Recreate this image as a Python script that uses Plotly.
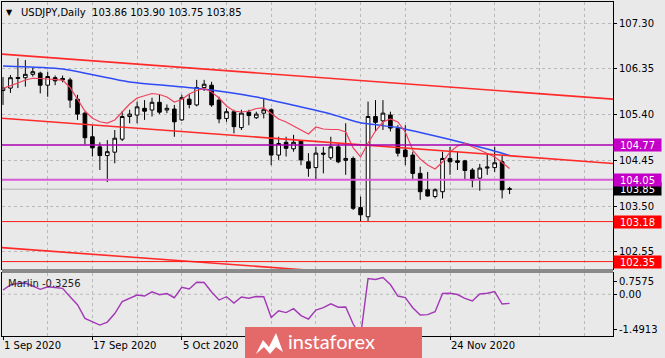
import plotly.graph_objects as go

# ---------------- data ----------------
bars = list(range(69))
opens = [105.90,105.95,106.17,106.165,106.235,106.26,106.01,106.165,106.15,106.12,
         105.72,105.43,104.94,104.73,104.55,104.62,104.89,105.36,105.39,105.53,
         105.495,105.655,105.495,105.515,105.29,105.72,105.60,105.96,106.01,105.70,
         105.32,105.46,105.13,105.45,105.335,105.43,105.50,104.56,104.825,104.69,
         104.85,104.42,104.30,104.60,104.505,104.73,104.45,104.49,103.47,103.28,
         105.36,105.27,105.39,105.115,104.665,104.56,104.18,103.84,103.70,103.80,
         104.49,104.44,104.44,104.25,104.08,104.29,104.30,104.42,103.86]
highs = [106.18,106.22,106.57,106.53,106.37,106.29,106.29,106.21,106.21,106.165,
         105.81,105.46,105.18,104.825,104.87,105.08,105.47,105.50,105.67,105.70,
         105.75,105.81,105.61,105.60,105.81,105.82,106.12,106.12,106.08,105.77,
         105.53,105.50,105.50,105.50,105.46,105.74,105.53,104.94,104.94,104.98,
         104.87,104.60,104.73,104.73,104.94,104.80,105.22,104.53,103.70,105.67,
         105.70,105.70,105.46,105.18,105.18,104.63,104.32,104.21,103.87,104.63,
         104.73,104.63,104.46,104.29,104.375,104.58,104.73,104.56,103.90]
lows = [105.60,105.85,105.95,105.98,106.19,105.84,105.77,106.01,106.07,105.54,
        105.29,104.78,104.53,104.25,104.00,104.39,104.85,105.22,105.22,105.29,
        105.36,105.41,105.43,104.94,105.27,105.53,105.57,105.89,105.56,105.22,
        105.25,105.01,105.08,105.18,105.31,105.32,104.35,104.46,104.53,104.63,
        104.35,104.11,104.04,104.18,104.46,104.39,104.15,103.42,103.18,103.18,
        105.05,105.08,105.05,104.53,104.35,104.04,103.63,103.70,103.66,103.66,
        104.15,104.25,104.04,103.89,103.82,104.15,104.21,103.66,103.75]
closes = [105.95,106.165,106.15,106.235,106.29,106.01,106.19,106.10,106.12,105.70,
          105.41,104.92,104.71,104.55,104.63,104.91,105.36,105.41,105.56,105.47,
          105.655,105.45,105.53,105.25,105.75,105.61,105.96,106.03,105.60,105.31,
          105.46,105.15,105.43,105.38,105.41,105.50,104.56,104.80,104.70,104.825,
          104.46,104.285,104.60,104.58,104.73,104.42,104.49,103.455,103.32,105.36,
          105.24,105.43,105.12,104.60,104.526,104.18,103.80,103.71,103.84,104.49,
          104.42,104.41,104.24,104.04,104.29,104.31,104.40,103.84,103.85]

fast_ma = [105.945,105.993,106.055,106.117,106.153,106.149,106.138,106.117,106.117,105.962,
           105.723,105.474,105.323,105.252,105.225,105.288,105.454,105.620,105.744,105.796,
           105.837,105.817,105.765,105.661,105.713,105.827,105.900,105.941,105.868,105.744,
           105.578,105.474,105.454,105.474,105.526,105.537,105.422,105.308,105.246,105.163,
           105.080,104.997,105.142,105.101,105.090,105.090,105.039,104.707,104.520,104.810,
           105.059,105.246,105.308,105.246,105.039,104.665,104.478,104.354,104.271,104.416,
           104.624,104.748,104.800,104.738,104.665,104.593,104.520,104.406,104.281]

slow_ma_bars = [0, 8, 17, 26, 34, 39, 44, 48, 53, 56, 60, 65, 68]
slow_ma = [106.408, 106.346, 106.076, 105.945, 105.765, 105.593, 105.412,
           105.229, 105.132, 105.028, 104.883, 104.686, 104.551]

marlin = [0.150,0.329,0.390,0.400,0.293,0.175,0.264,0.236,0.211,-0.089,
          -0.375,-0.861,-0.993,-1.100,-0.993,-0.689,-0.261,-0.150,-0.029,-0.064,
          0.086,-0.018,0.025,-0.125,0.246,0.186,0.425,0.418,0.079,-0.207,
          -0.089,-0.314,-0.100,-0.143,-0.082,-0.089,-0.832,-0.593,-0.657,-0.514,
          -0.764,-0.886,-0.564,-0.482,-0.343,-0.464,-0.457,-1.064,-1.490,0.557,
          0.525,0.596,0.346,-0.064,-0.118,-0.482,-0.743,-0.728,-0.625,0.025,
          0.032,-0.011,-0.146,-0.243,0.007,0.036,0.096,-0.350,-0.3256]

trend_bars = [-1, 82]
trend_upper = [106.664, 105.719]
trend_middle = [105.335, 104.385]
trend_lower = [102.649, 101.706]

level_vals = [104.77, 104.05, 103.18, 102.35]
level_colors = ["#A800B0", "#D75AD7", "#FF1A1A", "#FF1A1A"]
level_widths = [1.5, 2, 1, 1]
box_colors = ["#C400C8", "#C400C8", "#FF0000", "#FF0000"]
bid_price = 103.85

price_ticks = [102.55, 103.50, 104.45, 105.40, 106.35, 107.30]
date_tick_bars = [0, 12, 24, 36, 48, 60]
# labels at bars 36 and 48 are hidden behind the logo in the original
date_label_bars = [0, 12, 24, 60]
date_tick_labels = ["1 Sep 2020", "17 Sep 2020", "5 Oct 2020", "24 Nov 2020"]
osc_labels = ["0.7575", "0.00", "-1.4913"]

title_text = "USDJPY,Daily  103.86 103.90 103.75 103.85"
osc_title = "Marlin -0.3256"

# ---------------- style / geometry ----------------
W, H = 665, 358
ML, MR, MT, MB = 2, 52, 2, 22
PW, PH = W - ML - MR, H - MT - MB
BG = "#E9E9E9"
GRID = "#B9B9B9"
FONT = "DejaVu Sans"


def px(x, y):
    return (x - ML) / PW, (H - MB - y) / PH


main_bottom = px(0, 269)[1]
osc_top = px(0, 273)[1]

fig = go.Figure()

fig.add_trace(go.Candlestick(
    x=bars, open=opens, high=highs, low=lows, close=closes,
    xaxis="x", yaxis="y",
    increasing=dict(line=dict(color="black", width=1), fillcolor="white"),
    decreasing=dict(line=dict(color="black", width=1), fillcolor="black"),
    whiskerwidth=0, hoverinfo="skip", showlegend=False))

fig.add_trace(go.Scatter(x=slow_ma_bars, y=slow_ma, mode="lines",
                         line=dict(color="#2F4BF5", width=1.5, shape="spline", smoothing=0.5),
                         xaxis="x", yaxis="y", hoverinfo="skip"))
fig.add_trace(go.Scatter(x=bars, y=fast_ma, mode="lines",
                         line=dict(color="#F0405A", width=1.2),
                         xaxis="x", yaxis="y", hoverinfo="skip"))
for tl in (trend_upper, trend_middle, trend_lower):
    fig.add_trace(go.Scatter(x=trend_bars, y=tl, mode="lines",
                             line=dict(color="#FF2A2A", width=1.6),
                             xaxis="x", yaxis="y", hoverinfo="skip"))

fig.add_trace(go.Scatter(x=bars, y=marlin, mode="lines",
                         line=dict(color="#A238B6", width=1.4),
                         xaxis="x2", yaxis="y2", hoverinfo="skip"))

shapes = []
shapes.append(dict(type="line", xref="x domain", x0=0, x1=1, yref="y", y0=bid_price, y1=bid_price,
                   line=dict(color="#C4C4C4", width=1.5), layer="below"))
for v, c, w in zip(level_vals, level_colors, level_widths):
    shapes.append(dict(type="line", xref="x domain", x0=0, x1=1, yref="y", y0=v, y1=v,
                       line=dict(color=c, width=w), layer="above"))
shapes.append(dict(type="line", xref="x2 domain", x0=0, x1=1, yref="y2", y0=0, y1=0,
                   line=dict(color=GRID, width=1, dash="3px,3px"), layer="below"))
shapes.append(dict(type="rect", xref="paper", x0=0, x1=1, yref="paper", y0=osc_top, y1=main_bottom,
                   fillcolor="#8A8A8A", line=dict(width=0), layer="above"))

# logo
lx0, ly0 = px(245, 327)
lx1, ly1 = px(422, 362)
shapes.append(dict(type="rect", xref="paper", yref="paper", x0=lx0, x1=lx1, y0=ly1, y1=ly0,
                   fillcolor="#E46A6A", line=dict(width=0), layer="above"))
icon_pts = [(256, 354), (263, 340), (269, 347), (276, 333), (283, 352), (276, 347), (270, 354), (264, 347)]
path = "M " + " L ".join(f"{px(x, y)[0]:.5f},{px(x, y)[1]:.5f}" for x, y in icon_pts) + " Z"
shapes.append(dict(type="path", xref="paper", yref="paper", path=path,
                   fillcolor="white", line=dict(width=0), layer="above"))

annotations = []
tx, ty = px(4, 13)
annotations.append(dict(xref="paper", yref="paper", x=tx, y=ty, xanchor="left", yanchor="middle",
                        text="▼", showarrow=False, font=dict(family=FONT, size=8, color="black")))
tx, ty = px(19, 13)
annotations.append(dict(xref="paper", yref="paper", x=tx, y=ty, xanchor="left", yanchor="middle",
                        text=title_text, showarrow=False, font=dict(family=FONT, size=10, color="black")))
tx, ty = px(6, 283)
annotations.append(dict(xref="paper", yref="paper", x=tx, y=ty, xanchor="left", yanchor="middle",
                        text=osc_title, showarrow=False, font=dict(family=FONT, size=10, color="#222222")))

for b, lab in zip(date_label_bars, date_tick_labels):
    annotations.append(dict(xref="x2", yref="paper", x=b, y=px(0, 345.5)[1], xanchor="left",
                            yanchor="middle", text=lab, showarrow=False, borderpad=0,
                            font=dict(family=FONT, size=10, color="black")))

annotations.append(dict(xref="paper", yref="y", x=1, y=bid_price, xanchor="left", yanchor="middle",
                        text=f"{bid_price:.2f}", showarrow=False, bgcolor="black", width=47, height=12,
                        borderpad=0, align="center", font=dict(family=FONT, size=10, color="white")))
for v, c in zip(level_vals, box_colors):
    annotations.append(dict(xref="paper", yref="y", x=1, y=v, xanchor="left", yanchor="middle",
                            text=f"{v:.2f}", showarrow=False, bgcolor=c, width=47, height=12,
                            borderpad=0, align="center", font=dict(family=FONT, size=10, color="white")))

lx, ly = px(331.5, 341)
annotations.append(dict(xref="paper", yref="paper", x=lx, y=ly, xanchor="center", yanchor="middle",
                        text="instaforex", showarrow=False,
                        font=dict(family="Lato", size=20, color="white")))

minor_grid = dict(tickvals=[6, 18, 30, 42, 54, 66, 72, 78], showgrid=True, gridcolor=GRID,
                  griddash="3px,3px", gridwidth=1, ticklen=0)

fig.update_layout(
    width=W, height=H, margin=dict(l=ML, r=MR, t=MT, b=MB, autoexpand=False),
    paper_bgcolor=BG, plot_bgcolor=BG, showlegend=False,
    shapes=shapes, annotations=annotations,
    xaxis=dict(domain=[0, 1], range=[-0.134, 81.88], anchor="y", showticklabels=False,
               tickvals=date_tick_bars, showgrid=True, gridcolor=GRID, griddash="3px,3px",
               minor=minor_grid, showline=True, mirror=True, linecolor="black", linewidth=1,
               zeroline=False, ticks="", rangeslider=dict(visible=False), fixedrange=True),
    xaxis2=dict(domain=[0, 1], range=[-0.134, 81.88], anchor="y2", showticklabels=False,
                tickvals=date_tick_bars, showgrid=True, gridcolor=GRID, griddash="3px,3px",
                minor=minor_grid, showline=True, mirror=True, linecolor="black", linewidth=1,
                zeroline=False, ticks="outside", ticklen=3, tickcolor="black"),
    yaxis=dict(domain=[main_bottom, 1], range=[102.196, 107.736], side="right", anchor="x",
               tickvals=price_ticks, ticktext=[f"{t:.2f}" for t in price_ticks],
               ticks="outside", ticklen=3, tickcolor="black",
               tickfont=dict(family=FONT, size=10, color="black"),
               showgrid=True, gridcolor=GRID, griddash="3px,3px",
               showline=True, mirror=True, linecolor="black", linewidth=1, zeroline=False),
    yaxis2=dict(domain=[0, osc_top], range=[-1.4913, 0.7575], side="right", anchor="x2",
                tickvals=[0.446, 0.0, -1.242], ticktext=osc_labels,
                ticks="outside", ticklen=3, tickcolor="black",
                tickfont=dict(family=FONT, size=10, color="black"),
                showgrid=False, showline=True, mirror=True, linecolor="black", linewidth=1,
                zeroline=False),
)

fig.write_html("out.html",
               config={"displayModeBar": False},
               post_script="document.body.style.margin='0';document.body.style.overflow='hidden';"
                           "document.body.style.background='#E9E9E9';")
